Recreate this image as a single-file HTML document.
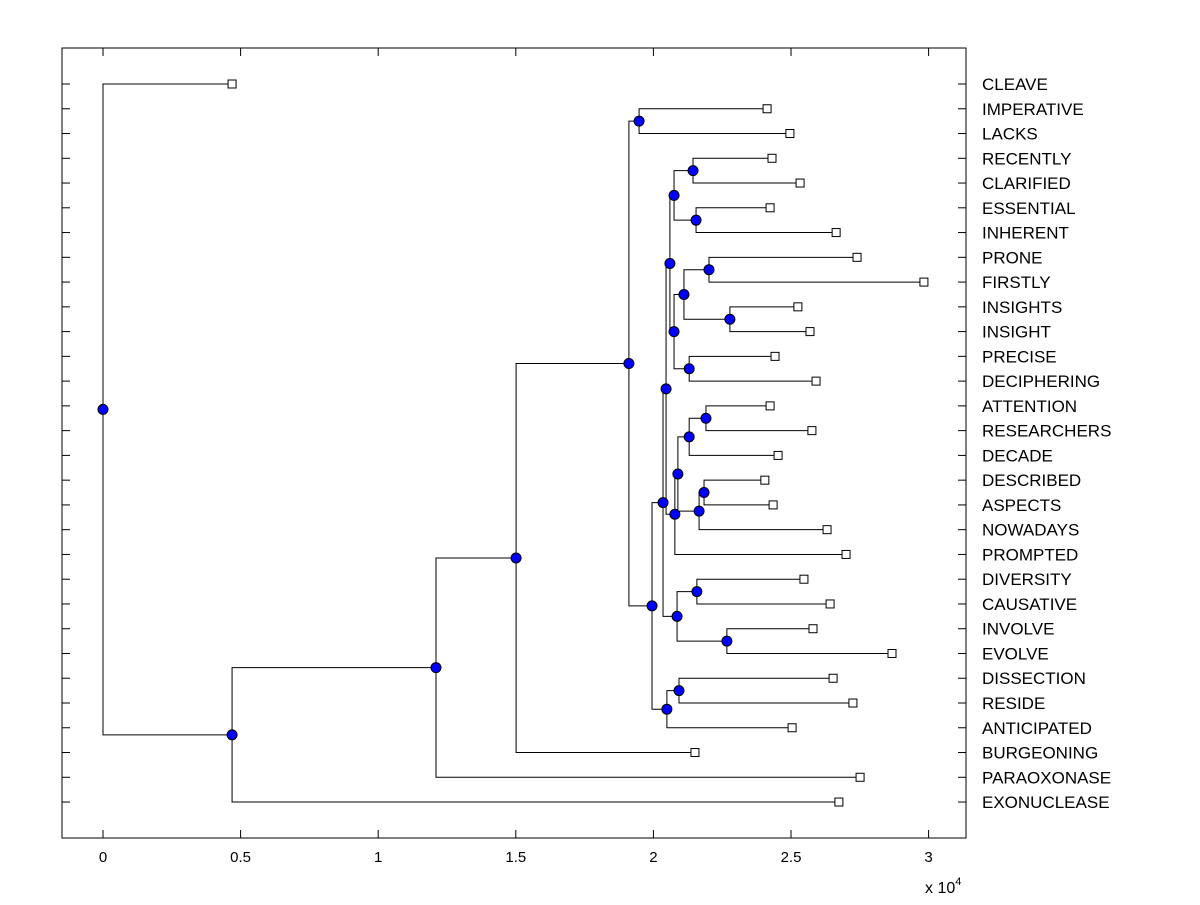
<!DOCTYPE html>
<html><head><meta charset="utf-8"><style>
html,body{margin:0;padding:0;background:#fff}
svg text{font-family:"Liberation Sans",Arial,sans-serif;fill:#000}
</style></head><body>
<svg id="chart" width="1200" height="900" xmlns="http://www.w3.org/2000/svg">
<rect x="0" y="0" width="1200" height="900" fill="#fff"/>
<rect x="62" y="48" width="904" height="790" fill="none" stroke="#000" stroke-width="1"/>
<g id="ticks"></g><g id="links"></g><g id="marks"></g><g id="labels"></g>
<text x="925" y="893" font-size="16">x 10<tspan dy="-8" font-size="11">4</tspan></text>
</svg>
<script>
const leafLabels = ["CLEAVE","IMPERATIVE","LACKS","RECENTLY","CLARIFIED","ESSENTIAL","INHERENT","PRONE","FIRSTLY","INSIGHTS","INSIGHT","PRECISE","DECIPHERING","ATTENTION","RESEARCHERS","DECADE","DESCRIBED","ASPECTS","NOWADAYS","PROMPTED","DIVERSITY","CAUSATIVE","INVOLVE","EVOLVE","DISSECTION","RESIDE","ANTICIPATED","BURGEONING","PARAOXONASE","EXONUCLEASE"];
const leafValues = [0.469,2.413,2.496,2.431,2.533,2.424,2.664,2.740,2.983,2.525,2.569,2.442,2.591,2.424,2.576,2.453,2.405,2.435,2.631,2.700,2.547,2.642,2.580,2.867,2.653,2.725,2.504,2.151,2.751,2.674];
const mergeLeft  = [16,13,30,31,33,34,7,9,36,11,38,3,5,41,43,44,20,22,46,45,24,50,49,1,53,54,55,56,0];
const mergeRight = [17,14,18,15,32,19,8,10,37,12,39,4,6,42,40,35,21,23,47,48,25,26,51,2,52,27,28,29,57];
const mergeHeight = [2.184,2.191,2.166,2.130,2.089,2.078,2.202,2.278,2.111,2.130,2.075,2.144,2.155,2.075,2.060,2.046,2.158,2.267,2.086,2.035,2.093,2.049,1.995,1.948,1.911,1.501,1.210,0.469,0];
const xTicks = [0,0.5,1,1.5,2,2.5,3];
const xTickLabels = ["0","0.5","1","1.5","2","2.5","3"];

const NS="http://www.w3.org/2000/svg";
const X = v => 103 + v*275.2;
const Y = i => 84 + i*24.76;
function mk(tag, attrs, parent){const e=document.createElementNS(NS,tag);for(const k in attrs)e.setAttribute(k,attrs[k]);document.getElementById(parent).appendChild(e);return e;}

xTicks.forEach((t,i)=>{
  const l1=mk('line',{x1:X(t),x2:X(t),y1:838,y2:830,stroke:'#000'},'ticks');
  
  
  const l2=mk('line',{x1:X(t),x2:X(t),y1:48,y2:56,stroke:'#000'},'ticks');
  
  
  const tx=mk('text',{x:X(t),y:862,'font-size':15,'text-anchor':'middle'},'ticks');
  tx.textContent=xTickLabels[i];
  
  
});

const nodeX=[],nodeY=[];
leafLabels.forEach((lab,i)=>{
  nodeX[i]=X(leafValues[i]); nodeY[i]=Y(i);
  const a=mk('line',{x1:62,x2:70,y1:Y(i),y2:Y(i),stroke:'#000'},'ticks');
  
  
  const b=mk('line',{x1:958,x2:966,y1:Y(i),y2:Y(i),stroke:'#000'},'ticks');
  
  
  const t=mk('text',{x:982,y:Y(i)+6,'font-size':17},'labels');
  t.textContent=lab;
  
  
});
const n=leafLabels.length;
mergeHeight.forEach((h,k)=>{
  const a=mergeLeft[k], b=mergeRight[k], id=n+k, x=X(h);
  nodeX[id]=x; nodeY[id]=(nodeY[a]+nodeY[b])/2;
  const p=mk('path',{d:`M${nodeX[a]},${nodeY[a]}H${x}V${nodeY[b]}H${nodeX[b]}`,fill:'none',stroke:'#000','stroke-width':1},'links');
  
  
});
leafLabels.forEach((lab,i)=>{
  const r=mk('rect',{x:nodeX[i]-4,y:nodeY[i]-4,width:8,height:8,fill:'#fff',stroke:'#000'},'marks');
  
  
});
mergeHeight.forEach((h,k)=>{
  const id=n+k;
  const c=mk('circle',{cx:nodeX[id],cy:nodeY[id],r:5,fill:'#0000ff',stroke:'#000','stroke-width':1},'marks');
  
  
});
</script>
</body></html>
